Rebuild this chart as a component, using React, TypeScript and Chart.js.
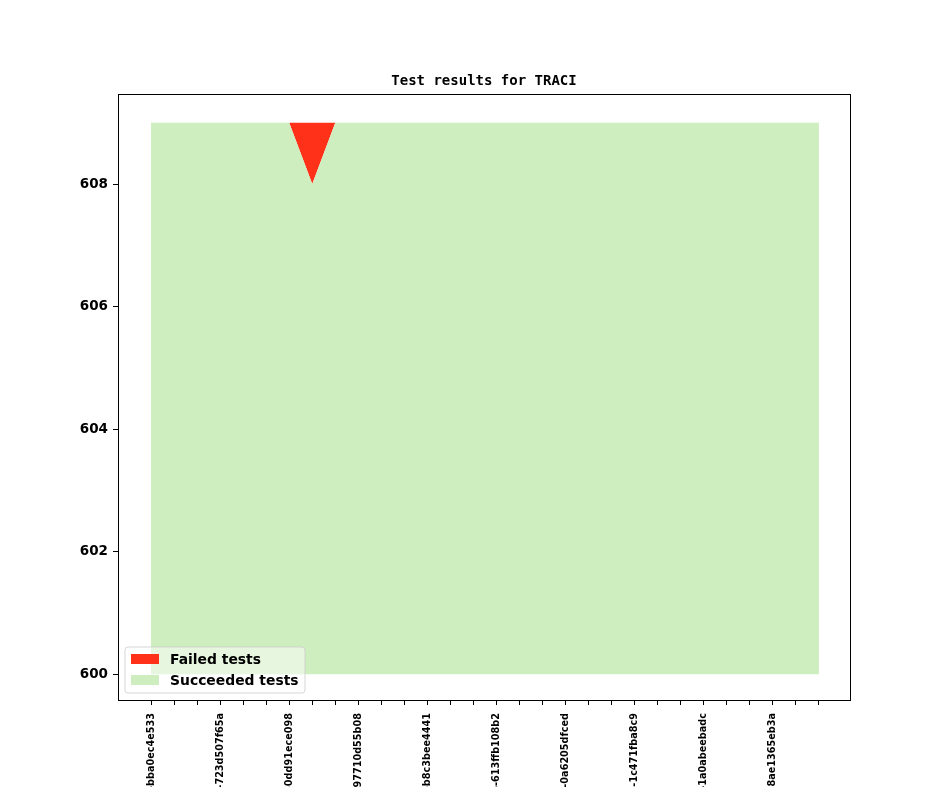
import React, { useEffect, useRef } from "react";
import { Chart, registerables } from "chart.js";

Chart.register(...registerables);

// ---- data ----
const commitIndex: number[] = Array.from({ length: 30 }, (_, i) => i);
const succeededTests: number[] = [
  609, 609, 609, 609, 609, 609, 609, 608, 609, 609,
  609, 609, 609, 609, 609, 609, 609, 609, 609, 609,
  609, 609, 609, 609, 609, 609, 609, 609, 609, 609,
];
const failedTests: number[] = [
  0, 0, 0, 0, 0, 0, 0, 1, 0, 0,
  0, 0, 0, 0, 0, 0, 0, 0, 0, 0,
  0, 0, 0, 0, 0, 0, 0, 0, 0, 0,
];
const xTickLabels: string[] = [
  "v1_1_0+0001-bba0ec4e533",
  "v1_1_0+0004-723d507f65a",
  "v1_1_0+0007-0dd91ece098",
  "v1_1_0+0010-97710d55b08",
  "v1_1_0+0013-b8c3bee4441",
  "v1_1_0+0016-613ffb108b2",
  "v1_1_0+0019-0a6205dfced",
  "v1_1_0+0022-1c471fba8c9",
  "v1_1_0+0025-1a0abeebadc",
  "v1_1_0+0028-8ae1365eb3a",
];
const yTicks: number[] = [600, 602, 604, 606, 608];
const titleText = "Test results for TRACI";
const baseline = 600;

const RED = "#ff3118";
const GREEN = "#cfeebf";

const overlayPlugin = {
  id: "overlay",
  afterDraw(chart: any) {
    const { ctx, chartArea } = chart;
    const { left, right, top, bottom } = chartArea;
    ctx.save();
    // frame
    ctx.strokeStyle = "#000";
    ctx.lineWidth = 1;
    ctx.strokeRect(Math.round(left) + 0.5, Math.round(top) + 0.5, Math.round(right - left), Math.round(bottom - top));
    // title
    ctx.fillStyle = "#000";
    ctx.font = "bold 14px 'DejaVu Sans Mono'";
    ctx.textAlign = "center";
    ctx.textBaseline = "middle";
    ctx.fillText(titleText, (left + right) / 2, top - 13);
    // legend
    const entries = [
      { label: chart.data.datasets[1].label, color: RED },
      { label: chart.data.datasets[0].label, color: GREEN },
    ];
    const bx = left + 7, by = bottom - 53, bw = 180, bh = 46, r = 3;
    ctx.beginPath();
    ctx.moveTo(bx + r, by);
    ctx.lineTo(bx + bw - r, by);
    ctx.arcTo(bx + bw, by, bx + bw, by + r, r);
    ctx.lineTo(bx + bw, by + bh - r);
    ctx.arcTo(bx + bw, by + bh, bx + bw - r, by + bh, r);
    ctx.lineTo(bx + r, by + bh);
    ctx.arcTo(bx, by + bh, bx, by + bh - r, r);
    ctx.lineTo(bx, by + r);
    ctx.arcTo(bx, by, bx + r, by, r);
    ctx.closePath();
    ctx.fillStyle = "rgba(255,255,255,0.5)";
    ctx.fill();
    ctx.strokeStyle = "rgba(204,204,204,0.8)";
    ctx.stroke();
    ctx.font = "bold 13.9px 'DejaVu Sans'";
    ctx.textAlign = "left";
    entries.forEach((e, i) => {
      const y = by + 7 + i * 21;
      ctx.fillStyle = e.color;
      ctx.fillRect(bx + 6, y, 28, 10);
      ctx.fillStyle = "#000";
      ctx.fillText(e.label, bx + 45, y + 6);
    });
    ctx.restore();
  },
};

export default function App() {
  const ref = useRef<HTMLCanvasElement | null>(null);
  useEffect(() => {
    document.body.style.margin = "0";
    if (!ref.current) return;
    const chart = new Chart(ref.current, {
      type: "line",
      data: {
        datasets: [
          {
            label: "Succeeded tests",
            data: commitIndex.map((x, i) => ({ x, y: succeededTests[i] })),
            backgroundColor: GREEN,
            borderColor: "rgba(0,0,0,0)",
            borderWidth: 0,
            pointRadius: 0,
            fill: { value: baseline },
            tension: 0,
          },
          {
            label: "Failed tests",
            data: commitIndex.map((x, i) => ({ x, y: succeededTests[i] + failedTests[i] })),
            backgroundColor: RED,
            borderColor: "rgba(0,0,0,0)",
            borderWidth: 0,
            pointRadius: 0,
            fill: "-1",
            tension: 0,
          },
        ],
      },
      options: {
        animation: false,
        responsive: false,
        devicePixelRatio: 1,
        layout: { padding: { top: 94, right: 94, left: 0, bottom: 0 } },
        plugins: { legend: { display: false }, tooltip: { enabled: false }, title: { display: false } },
        scales: {
          x: {
            type: "linear",
            min: -1.435,
            max: 30.35,
            afterBuildTicks: (axis: any) => {
              axis.ticks = commitIndex.map((v) => ({ value: v }));
            },
            afterFit: (axis: any) => {
              axis.height = 87;
            },
            grid: { drawOnChartArea: false, drawTicks: true, tickLength: 5, color: "#000" },
            border: { display: true, color: "#000" },
            ticks: {
              autoSkip: false,
              maxRotation: 90,
              minRotation: 90,
              padding: 8,
              color: "#000",
              font: { family: "'DejaVu Sans'", weight: "bold", size: 9.7 },
              callback: (v: any) => {
                const n = Number(v);
                return n % 3 === 0 ? xTickLabels[n / 3] : "";
              },
            },
          },
          y: {
            type: "linear",
            min: 599.58,
            max: 609.47,
            afterBuildTicks: (axis: any) => {
              axis.ticks = yTicks.map((v) => ({ value: v }));
            },
            afterFit: (axis: any) => {
              axis.width = 118;
            },
            grid: { drawOnChartArea: false, drawTicks: true, tickLength: 5, color: "#000" },
            border: { display: true, color: "#000" },
            ticks: {
              padding: 5,
              color: "#000",
              font: { family: "'DejaVu Sans'", weight: "bold", size: 13.5 },
              callback: (v: any) => String(v),
            },
          },
        },
      },
      plugins: [overlayPlugin],
    } as any);
    return () => chart.destroy();
  }, []);
  return (
    <div style={{ width: 944, height: 787, overflow: "hidden", background: "#fff" }}>
      <canvas ref={ref} width={944} height={787} style={{ display: "block" }} />
    </div>
  );
}
